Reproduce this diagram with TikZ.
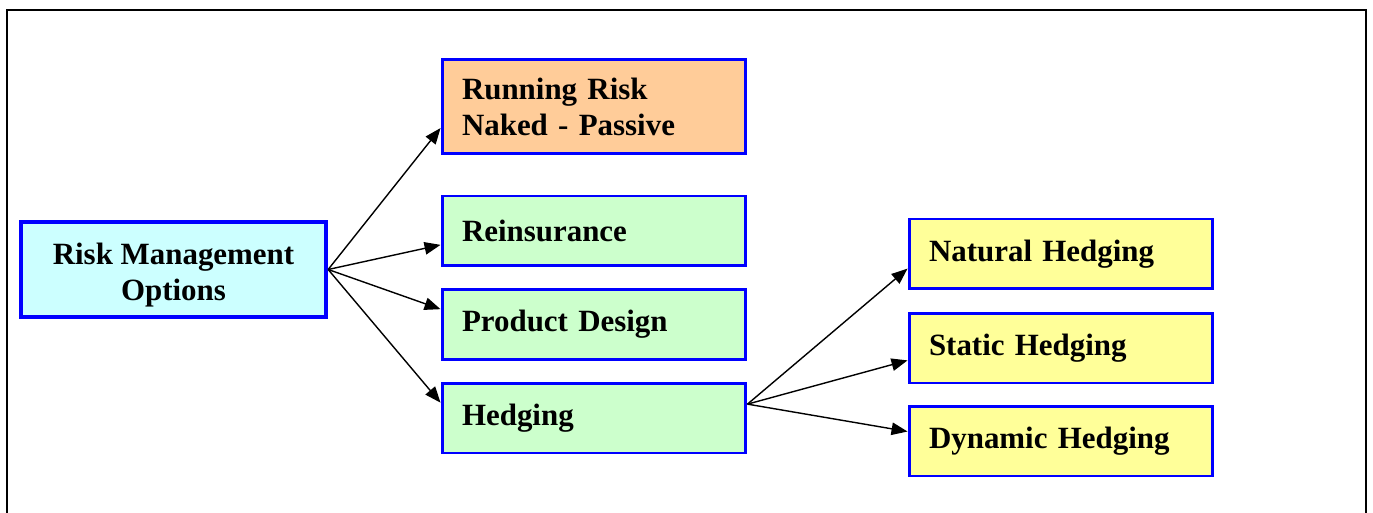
\documentclass[tikz,border=0pt]{standalone}
\usepackage{fontspec}
\setmainfont{Liberation Serif}
\usetikzlibrary{arrows.meta, calc}

\definecolor{rootfill}{HTML}{CCFFFF}
\definecolor{nakedfill}{HTML}{FFCC99}
\definecolor{toolfill}{HTML}{CCFFCC}
\definecolor{hedgefill}{HTML}{FFFF99}
\definecolor{boxblue}{HTML}{0000FF}

\tikzset{
    optbox/.style={draw=boxblue, line width=1.7pt, minimum width=6.08cm, minimum height=1.4cm,
        inner xsep=0.4cm, text width=5.28cm, align=left,
        font=\fontsize{17.6pt}{20.5pt}\selectfont\bfseries},
    link/.style={line width=0.8pt, -{Triangle[length=0.32cm, width=0.25cm]}}
}

\begin{document}
\begin{tikzpicture}[x=0.02cm, y=-0.02cm]
        \useasboundingbox (0,0) rectangle (1373,513);
        % open frame round the chart
        \draw[line width=1.2pt] (7,530) -- (7,10) -- (1366,10) -- (1366,530);

        \node[optbox, fill=rootfill, line width=2.5pt, text width={}, align=center, minimum width=6.1cm, minimum height=1.9cm] (root) at (173.5,269.5)
            {\raisebox{0pt}[\dimexpr\height+0.22cm\relax][\depth]{\begin{tabular}{@{}c@{}}Risk Management\\Options\end{tabular}}};

        \node[optbox, fill=nakedfill, minimum height=1.9cm] (naked) at (594,106.5) {Running Risk\\Naked - Passive};
        \node[optbox, fill=toolfill] (reins) at (594,231) {Reinsurance};
        \node[optbox, fill=toolfill] (design) at (594,324.5) {Product Design};
        \node[optbox, fill=toolfill] (hedge) at (594,418) {Hedging};

        \node[optbox, fill=hedgefill] (natural) at (1061,254) {Natural Hedging};
        \node[optbox, fill=hedgefill] (static) at (1061,348) {Static Hedging};
        \node[optbox, fill=hedgefill] (dynamic) at (1061,441) {Dynamic Hedging};

        \coordinate (hedgeout) at ($(hedge.north east)!0.31!(hedge.south east)$);

        \draw[link] (root.east) -- ($(naked.north west)!0.72!(naked.south west)$);
        \draw[link] (root.east) -- ($(reins.north west)!0.69!(reins.south west)$);
        \draw[link] (root.east) -- ($(design.north west)!0.29!(design.south west)$);
        \draw[link] (root.east) -- ($(hedge.north west)!0.29!(hedge.south west)$);

        \draw[link] (hedgeout) -- ($(natural.north west)!0.7!(natural.south west)$);
        \draw[link] (hedgeout) -- ($(static.north west)!0.67!(static.south west)$);
        \draw[link] (hedgeout) -- ($(dynamic.north west)!0.37!(dynamic.south west)$);
    \end{tikzpicture}
\end{document}
